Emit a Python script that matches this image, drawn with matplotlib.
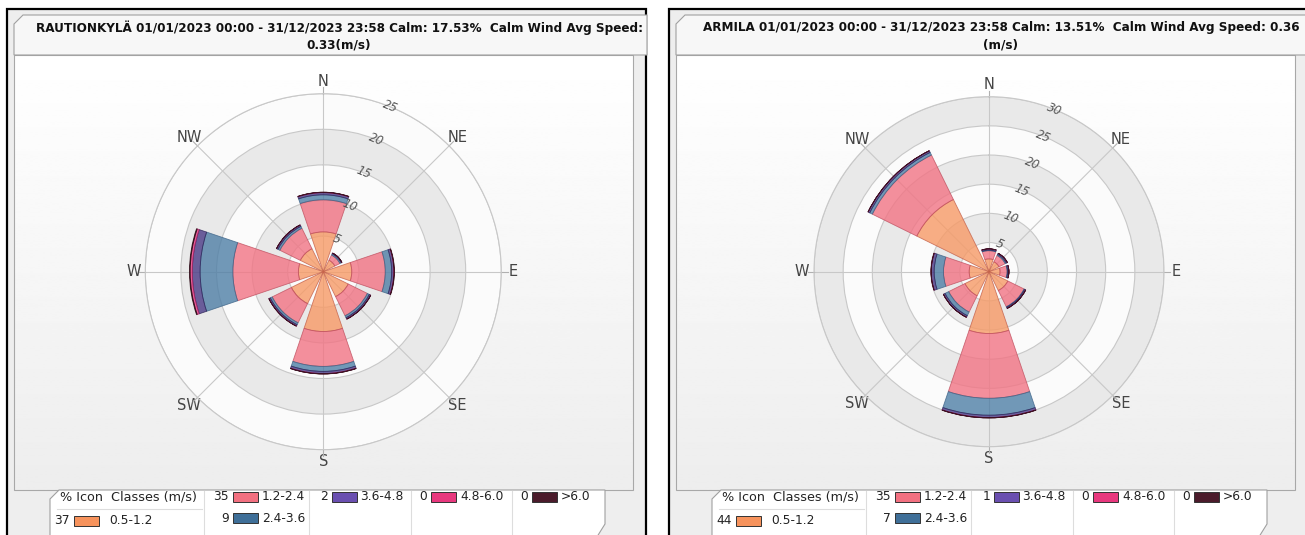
import matplotlib
matplotlib.use('Agg')
import matplotlib.pyplot as plt
import numpy as np
from matplotlib.patches import Rectangle, Polygon

W, H = 1305, 535

directions = ['N', 'NE', 'E', 'SE', 'S', 'SW', 'W', 'NW']
classes = ['0.5-1.2', '1.2-2.4', '2.4-3.6', '3.6-4.8', '4.8-6.0', '>6.0']
class_colors = ['#F79A66', '#F27484', '#4F7FA6', '#4A3A86', '#E83A84', '#4B1B2B']
class_edges = ['#C4604A', '#C05060', '#3E6488', '#2E2458', '#A02060', '#2A0A15']
swatch_colors = ['#F7935C', '#F27080', '#3F6F98', '#6A4FB0', '#E8387E', '#4B1B2B']

# RAUTIONKYLA, % per direction and speed class
rau_0512 = [5.6, 1.8, 4.0, 3.9, 8.4, 5.0, 3.5, 3.6]
rau_1224 = [4.5, 0.8, 4.7, 3.0, 4.9, 3.0, 9.2, 3.2]
rau_2436 = [0.7, 0.2, 0.9, 0.3, 0.7, 0.3, 4.6, 0.3]
rau_3648 = [0.3, 0.1, 0.3, 0.2, 0.3, 0.2, 1.1, 0.2]
rau_4860 = [0.05, 0.02, 0.05, 0.03, 0.05, 0.03, 0.3, 0.03]
rau_60 = [0.02, 0.0, 0.02, 0.0, 0.02, 0.0, 0.1, 0.0]
rau_legend = ['37', '35', '9', '2', '0', '0']

# ARMILA
arm_0512 = [2.2, 1.9, 1.9, 3.6, 10.6, 4.6, 3.4, 13.8]
arm_1224 = [1.4, 1.2, 1.2, 3.1, 11.1, 3.1, 4.4, 8.5]
arm_2436 = [0.1, 0.2, 0.1, 0.1, 2.9, 0.7, 1.6, 0.5]
arm_3648 = [0.2, 0.2, 0.2, 0.2, 0.4, 0.3, 0.5, 0.3]
arm_4860 = [0.02, 0.02, 0.02, 0.02, 0.05, 0.02, 0.03, 0.03]
arm_60 = [0.0, 0.0, 0.0, 0.0, 0.02, 0.0, 0.0, 0.0]
arm_legend = ['44', '35', '7', '1', '0', '0']

rau_title = ['RAUTIONKYLÄ 01/01/2023 00:00 - 31/12/2023 23:58 Calm: 17.53%  Calm Wind Avg Speed:',
             '0.33(m/s)']
arm_title = ['ARMILA 01/01/2023 00:00 - 31/12/2023 23:58 Calm: 13.51%  Calm Wind Avg Speed: 0.36',
             '(m/s)']

fig = plt.figure(figsize=(W / 100, H / 100), dpi=100)
fig.patch.set_facecolor('white')
bg = fig.add_axes([0, 0, 1, 1], zorder=-5)
bg.set_xlim(0, W)
bg.set_ylim(H, 0)
bg.axis('off')

grad = np.linspace(1.0, 0.93, 256).reshape(-1, 1)


def draw_frame(x0, title, legend_vals):
    # outer panel
    bg.add_patch(Rectangle((x0, 9), 639, 540, facecolor='#EEEEEE', edgecolor='black', lw=1.6))
    # plot box with soft gradient
    bg.imshow(grad, cmap='gray', vmin=0, vmax=1, extent=(x0 + 7, x0 + 626, 490, 55),
              aspect='auto', zorder=1)
    bg.add_patch(Rectangle((x0 + 7, 55), 619, 435, facecolor='none', edgecolor='#A8A8A8', lw=0.8, zorder=2))
    # title tab
    tab = [(x0 + 7, 55), (x0 + 7, 24), (x0 + 16, 15), (x0 + 640, 15), (x0 + 640, 55)]
    bg.add_patch(Polygon(tab, closed=True, facecolor='#F7F7F7', edgecolor='#A0A0A0', lw=0.8, zorder=2))
    t1 = bg.text(x0 + 332, 28, title[0], ha='center', va='center', fontsize=8, fontweight='bold',
                 color='#111111', zorder=3)
    t2 = bg.text(x0 + 332, 45, title[1], ha='center', va='center', fontsize=8, fontweight='bold',
                 color='#111111', zorder=3)
    # legend tab
    leg = [(x0 + 43, 540), (x0 + 43, 499), (x0 + 52, 490), (x0 + 598, 490), (x0 + 598, 524), (x0 + 588, 540)]
    bg.add_patch(Polygon(leg, closed=True, facecolor='white', edgecolor='#A0A0A0', lw=0.8, zorder=2))
    for sx in [197, 302, 404, 505]:
        bg.plot([x0 + sx, x0 + sx], [491, 540], color='#DDDDDD', lw=0.8, zorder=3)
    bg.plot([x0 + 50, x0 + 195], [509, 509], color='#DDDDDD', lw=0.8, zorder=3)
    bg.text(x0 + 53, 497, '% Icon  Classes (m/s)', ha='left', va='center', fontsize=9.2,
            color='#222222', zorder=3)
    # legend entries: (number right x, swatch x, label x, y)
    slots = [(63, 67, 102, 521), (222, 226, 255, 497), (222, 226, 255, 518),
             (321, 325, 353, 497), (420, 424, 453, 497), (521, 525, 554, 497)]
    for (nx, sx, lx, y), val, lab, col in zip(slots, legend_vals, classes, swatch_colors):
        bg.text(x0 + nx, y, val, ha='right', va='center', fontsize=8.8, color='#222222', zorder=3)
        bg.add_patch(Rectangle((x0 + sx, y - 5), 25, 10, facecolor=col, edgecolor='#333333',
                               lw=0.7, zorder=3))
        bg.text(x0 + lx, y, lab, ha='left', va='center', fontsize=8.8, color='#222222', zorder=3)
    return t1, t2


def draw_rose(cx, cy, R, rmax, series):
    ax = fig.add_axes([(cx - R) / W, (H - cy - R) / H, 2 * R / W, 2 * R / H], projection='polar')
    ax.set_theta_zero_location('N')
    ax.set_theta_direction(-1)
    ax.set_facecolor('#FBFBFB')
    ax.set_ylim(0, rmax)
    ax.set_axisbelow(True)
    # alternating grey bands
    for lo in range(5, rmax, 10):
        ax.bar(0, 5, width=2 * np.pi, bottom=lo, color='#E9E9E9', lw=0, zorder=0.2)
    theta = np.deg2rad(np.arange(0, 360, 45))
    width = np.deg2rad(37.5)
    bottom = np.zeros(len(directions))
    for vals, col, ec in zip(series, class_colors, class_edges):
        vals = np.array(vals)
        ax.bar(theta, vals, width=width, bottom=bottom, color=col, alpha=0.8,
               edgecolor=ec, lw=0.6, zorder=2)
        bottom = bottom + vals
    ticks = list(range(5, rmax + 1, 5))
    ax.set_rgrids(ticks, [''] * len(ticks))
    for t in ticks:
        ax.text(np.deg2rad(22), t, str(t), rotation=-22, ha='center', va='center',
                fontsize=8.5, style='italic', color='#555555', zorder=3)
    ax.set_thetagrids(np.arange(0, 360, 45), directions, fontsize=10.5, color='#444444')
    ax.tick_params(axis='x', pad=-2)
    ax.grid(color='#C8C8C8', lw=0.8)
    ax.spines['polar'].set_color('#C8C8C8')
    ax.spines['polar'].set_linewidth(0.8)
    for t in theta:
        ax.plot([t, t], [rmax, rmax * 1.035], color='#B0B0B0', lw=0.8, clip_on=False)
    return ax


titles = draw_frame(7, rau_title, rau_legend) + draw_frame(669, arm_title, arm_legend)

# fit first title line to the measured width
renderer = fig.canvas.get_renderer()
w = titles[0].get_window_extent(renderer).width
fs = 8 * 606 / w
for t in titles:
    t.set_fontsize(fs)

draw_rose(323.3, 271.7, 178, 25,
          [rau_0512, rau_1224, rau_2436, rau_3648, rau_4860, rau_60])
draw_rose(989, 271.7, 175, 30,
          [arm_0512, arm_1224, arm_2436, arm_3648, arm_4860, arm_60])

fig.savefig('out.png', dpi=100)
